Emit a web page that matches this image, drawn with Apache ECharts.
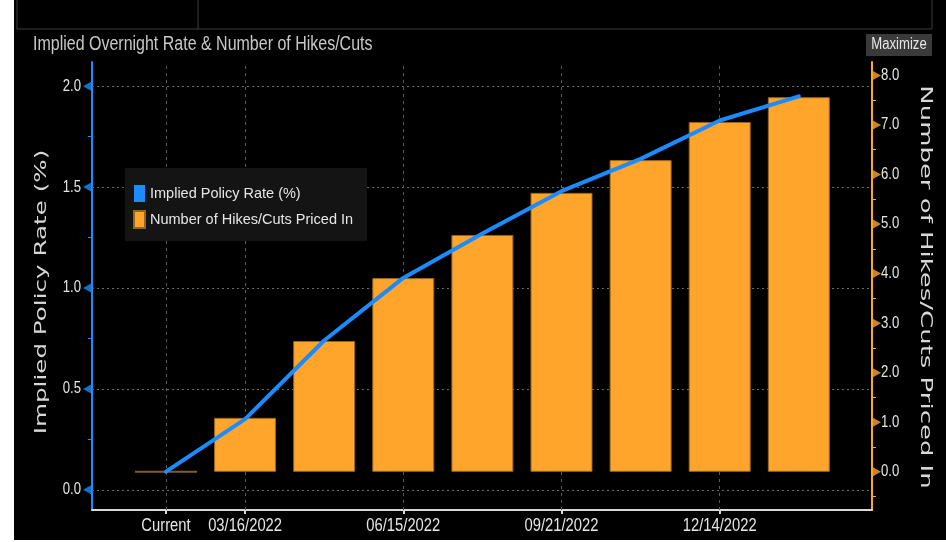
<!DOCTYPE html>
<html><head><meta charset="utf-8">
<script src="https://cdn.jsdelivr.net/npm/echarts@6/dist/echarts.min.js"></script>
<style>
html,body{margin:0;padding:0;background:#fff;width:946px;height:542px;overflow:hidden;}
#c{position:absolute;left:14px;top:0;width:932px;height:540px;background:#000;}
</style></head><body><div id="c"></div>
<script>
// ---- data ----
const categories = ['Current', '03/16/2022', '', '06/15/2022', '', '09/21/2022', '', '12/14/2022', ''];
const impliedRate = [0.09, 0.35, 0.74, 1.05, 1.27, 1.48, 1.64, 1.83, 1.95];
const hikesPriced = [0, 1.09, 2.64, 3.91, 4.78, 5.63, 6.29, 7.06, 7.56];
const leftTicks = [0, 0.5, 1.0, 1.5, 2.0];
const leftMinor = [0.25, 0.75, 1.25, 1.75];
const rightTicks = [0, 1, 2, 3, 4, 5, 6, 7, 8];
const rightMinor = [-0.5, 0.5, 1.5, 2.5, 3.5, 4.5, 5.5, 6.5, 7.5];
const seriesNames = ['Implied Policy Rate (%)', 'Number of Hikes/Cuts Priced In'];
const titleText = 'Implied Overnight Rate & Number of Hikes/Cuts';

// ---- style ----
const SANS = '"Liberation Sans",Arial,sans-serif';
const NX = 0.82; // horizontal condensing of the narrow terminal font
const BLUE = '#1a8cff';
const ORANGE = '#ffa52c';
const TXT = '#e6e6e6';
const X_MIN = -0.935, X_MAX = 8.925;
const L_MIN = -0.1, L_MAX = 2.12, R_MIN = -0.77, R_MAX = 8.27;
const labelIdx = categories.map((c, i) => c ? i : -1).filter(i => i >= 0);

function labelSeries(data, yAxisIndex, dx, dy, align, size, textOf) {
  return {
    type: 'custom', coordinateSystem: 'cartesian2d', yAxisIndex: yAxisIndex,
    silent: true, clip: false, z: 6, data: data,
    renderItem: function (params, api) {
      const p = api.coord([api.value(0), api.value(1)]);
      return {
        type: 'text', x: p[0] + dx, y: p[1] + dy, scaleX: NX,
        style: {text: textOf(params.dataIndex), fill: TXT, font: size + 'px ' + SANS,
          textAlign: align, textVerticalAlign: 'middle'}
      };
    }
  };
}

const chart = echarts.init(document.getElementById('c'), null, {renderer: 'canvas'});
chart.setOption({
  backgroundColor: '#000',
  animation: false,
  grid: {left: 78, right: 74, top: 62, bottom: 30, containLabel: false},
  legend: {
    orient: 'vertical', left: 111, top: 168,
    icon: 'rect', itemWidth: 11, itemHeight: 17, itemGap: 8,
    backgroundColor: '#141414', padding: [17, 14, 12, 8],
    textStyle: {color: TXT, fontFamily: SANS, fontSize: 14.5},
    data: seriesNames
  },
  xAxis: {
    type: 'value', min: X_MIN, max: X_MAX,
    axisLine: {show: true, onZero: false, lineStyle: {color: '#d8d8d8', width: 2}},
    axisTick: {show: true, customValues: labelIdx, length: 4, lineStyle: {color: '#d8d8d8', width: 2}},
    axisLabel: {show: false},
    splitLine: {show: false}
  },
  yAxis: [{
    type: 'value', position: 'left', min: L_MIN, max: L_MAX,
    axisLine: {show: true, onZero: false, lineStyle: {color: BLUE, width: 2}},
    axisTick: {show: true, customValues: leftMinor, length: 4, lineStyle: {color: BLUE, width: 1}},
    axisLabel: {show: false},
    splitLine: {show: false}
  }, {
    type: 'value', position: 'right', min: R_MIN, max: R_MAX,
    axisLine: {show: true, onZero: false, lineStyle: {color: ORANGE, width: 2}},
    axisTick: {show: true, customValues: rightMinor, length: 4, lineStyle: {color: ORANGE, width: 1}},
    axisLabel: {show: false},
    splitLine: {show: false}
  }],
  series: [{
    name: seriesNames[1], type: 'bar', yAxisIndex: 1, z: 2,
    data: hikesPriced.map((v, i) => i === 0
      ? {value: [i, v], itemStyle: {borderColor: '#8b5a1f', borderWidth: 2}}
      : [i, v]),
    barWidth: 62,
    itemStyle: {color: ORANGE, borderColor: '#9a6420', borderWidth: 1},
    markLine: {
      silent: true, symbol: 'none', z: 1, label: {show: false},
      lineStyle: {color: '#5a5a5a', type: [3, 4], width: 1},
      data: labelIdx.map(i => ({xAxis: i}))
    }
  }, {
    name: seriesNames[0], type: 'line', yAxisIndex: 0, z: 3,
    data: impliedRate.map((v, i) => [i, v]),
    showSymbol: false, symbol: 'none',
    lineStyle: {color: BLUE, width: 4, cap: 'round', join: 'round'},
    itemStyle: {color: BLUE},
    markLine: {
      silent: true, symbol: 'none', z: 1, label: {show: false},
      lineStyle: {color: '#6a6a6a', type: [2, 3], width: 1},
      data: leftTicks.map(v => ({yAxis: v}))
    }
  }, {
    type: 'scatter', yAxisIndex: 0, z: 5, silent: true, clip: false,
    data: leftTicks.map(v => [X_MIN, v]),
    symbol: 'triangle', symbolSize: [10, 9], symbolRotate: 90, symbolOffset: [-4.5, 0],
    itemStyle: {color: BLUE}
  }, {
    type: 'scatter', yAxisIndex: 1, z: 5, silent: true, clip: false,
    data: rightTicks.map(v => [X_MAX, v]),
    symbol: 'triangle', symbolSize: [10, 9], symbolRotate: -90, symbolOffset: [4.5, 0],
    itemStyle: {color: ORANGE}
  },
  labelSeries(labelIdx.map(i => [i, R_MIN]), 1, 0, 16, 'center', 18, k => categories[labelIdx[k]]),
  labelSeries(leftTicks.map(v => [X_MIN, v]), 0, -11, 0, 'right', 16, k => leftTicks[k].toFixed(1)),
  labelSeries(rightTicks.map(v => [X_MAX, v]), 1, 9, 0, 'left', 16, k => rightTicks[k].toFixed(1))
  ],
  graphic: [
    {type: 'polyline', shape: {points: [[3, -1], [3, 29], [918, 29], [918, -1]]}, style: {stroke: '#3c3c3c', lineWidth: 1, fill: null}, silent: true},
    {type: 'line', shape: {x1: 184, y1: 0, x2: 184, y2: 29}, style: {stroke: '#3c3c3c', lineWidth: 1}, silent: true},
    {type: 'text', x: 19, y: 45, scaleX: NX, style: {text: titleText, fill: '#c8c8c8', font: '19.5px ' + SANS, textVerticalAlign: 'middle'}, silent: true},
    {type: 'rect', shape: {x: 852, y: 34, width: 66, height: 22}, style: {fill: '#3a3a3a'}, silent: true},
    {type: 'text', x: 885, y: 45, scaleX: NX, style: {text: 'Maximize', fill: '#e6e6e6', font: '16px ' + SANS, textAlign: 'center', textVerticalAlign: 'middle'}, silent: true},
    {type: 'text', x: 28, y: 292, rotation: Math.PI / 2, scaleX: 1.64,
      style: {text: seriesNames[0], fill: '#d8d8d8', font: '15px "DejaVu Sans",Verdana,sans-serif', textAlign: 'center', textVerticalAlign: 'middle'}, silent: true},
    {type: 'text', x: 911, y: 287, rotation: -Math.PI / 2, scaleX: 1.73,
      style: {text: seriesNames[1], fill: '#d8d8d8', font: '15px "DejaVu Sans",Verdana,sans-serif', textAlign: 'center', textVerticalAlign: 'middle'}, silent: true}
  ]
});
</script></body></html>
